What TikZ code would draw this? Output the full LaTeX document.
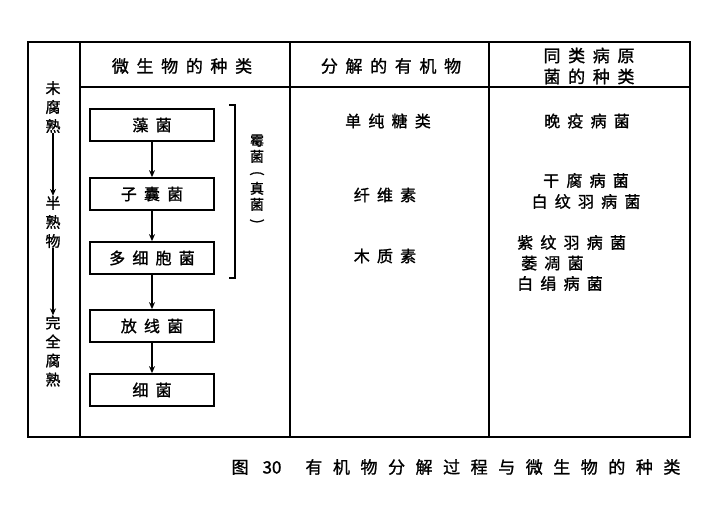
\documentclass[tikz,border=0pt]{standalone}
\usepackage{fontspec}
\newfontfamily\cjk[LetterSpace=45,FakeBold=1.2]{Noto Sans CJK SC}
\newfontfamily\cjkcap[LetterSpace=62,FakeBold=1.2]{Noto Sans CJK SC}
\newfontfamily\cjkv[FakeBold=1.2]{Noto Sans CJK SC}
\usetikzlibrary{arrows.meta}
\begin{document}
\begin{tikzpicture}[x=1bp,y=-1bp,
  tbl/.style={line width=1.7bp, black},
  box/.style={draw=black, line width=1.7bp, minimum width=124bp, minimum height=32bp, inner sep=0pt, font=\cjk\fontsize{16bp}{19bp}\selectfont},
  hdr/.style={font=\cjk\fontsize{17bp}{21bp}\selectfont, align=center, inner sep=0pt},
  cell/.style={font=\cjk\fontsize{16bp}{21bp}\selectfont, align=center, inner sep=0pt},
  vtxt/.style={font=\cjkv\fontsize{15bp}{19bp}\selectfont, align=center, inner sep=0pt},
  arr/.style={line width=1.7bp, black, -{Stealth[length=7bp,width=6bp]}},
]
\fill[white] (0,0) rectangle (720,506);
\useasboundingbox (0,0) rectangle (720,506);

% table frame
\draw[tbl] (28,42) rectangle (690,437);
\draw[tbl] (80,42) -- (80,437);
\draw[tbl] (290,42) -- (290,437);
\draw[tbl] (489,42) -- (489,437);
\draw[tbl] (80,87) -- (690,87);

% headers
\node[hdr] (h1) at (182,66) {微生物的种类};
\node[hdr] (h2) at (391,66) {分解的有机物};
\node[hdr] (h3) at (589,66) {同类病原\\菌的种类};

% left column
\node[vtxt] (l1) at (53,107) {未\\腐\\熟};
\node[vtxt] (l2) at (53,222) {半\\熟\\物};
\node[vtxt] (l3) at (53,351) {完\\全\\腐\\熟};
\draw[arr] (l1) -- (l2);
\draw[arr] (l2) -- (l3);

% boxes
\node[box] (b1) at (152,125) {藻菌};
\node[box] (b2) at (152,194) {子囊菌};
\node[box] (b3) at (152,258) {多细胞菌};
\node[box] (b4) at (152,326) {放线菌};
\node[box] (b5) at (152,390) {细菌};
\draw[arr] (b1) -- (b2);
\draw[arr] (b2) -- (b3);
\draw[arr] (b3) -- (b4);
\draw[arr] (b4) -- (b5);

% bracket
\draw[tbl] (229,105) -- (235,105) -- (235,278) -- (229,278);
\node[vtxt, font=\cjkv\fontsize{14bp}{16bp}\selectfont] (lab) at (257,180) {霉\\菌\\\rotatebox[origin=c]{-90}{(}\\真\\菌\\\rotatebox[origin=c]{-90}{)}};

% column 2
\node[cell] (c1) at (388,121) {单纯糖类};
\node[cell] (c2) at (385,195) {纤维素};
\node[cell] (c3) at (385,256) {木质素};

% column 3
\node[cell] (d1) at (587,121) {晚疫病菌};
\node[cell] (d2) at (586,191) {干腐病菌\\白纹羽病菌};
\node[cell, align=left, anchor=west, font=\cjk\fontsize{16bp}{20.5bp}\selectfont] (d3) at (517,263) {紫纹羽病菌\\\hspace{4bp}萎凋菌\\白绢病菌};

% caption
\node[font=\cjkcap\fontsize{17bp}{20bp}\selectfont, inner sep=0pt] (cap) at (456,467) {图\hspace{14bp}{\cjkv 30}\hspace{24bp}有机物分解过程与微生物的种类};
\end{tikzpicture}
\end{document}
